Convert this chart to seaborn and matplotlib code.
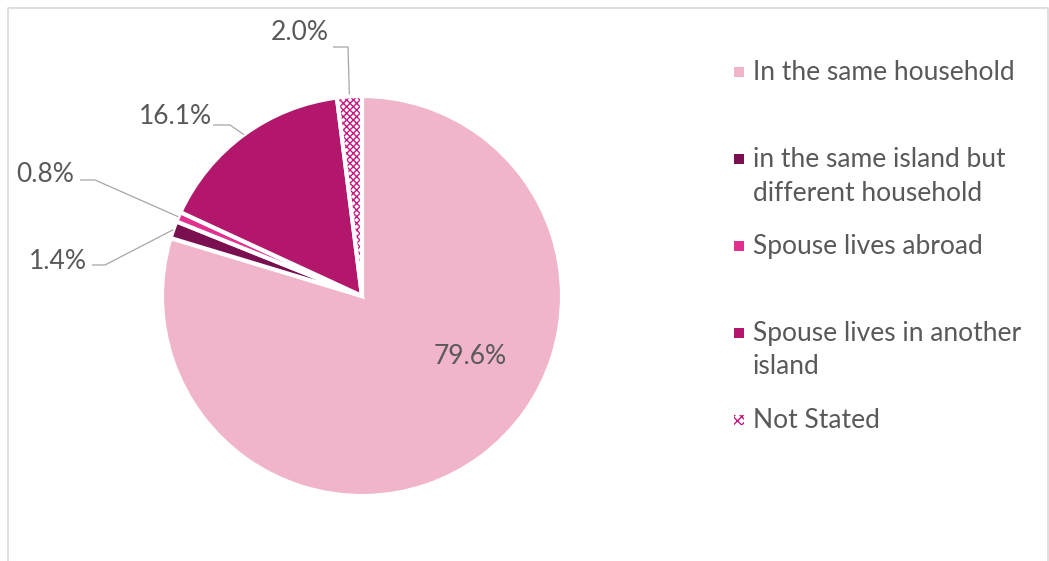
import matplotlib.pyplot as plt
import matplotlib.patches as mpatches
import numpy as np
import seaborn as sns

# data
categories = ["In the same household",
              "in the same island but\ndifferent household",
              "Spouse lives abroad",
              "Spouse lives in another\nisland",
              "Not Stated"]
shares = [79.6, 1.4, 0.8, 16.1, 2.0]
colors = ["#F0B4CB", "#7A1050", "#E2308F", "#B3176B", "#FFFFFF"]
hatch_color = "#C8177E"
text_color = "#595959"

sns.set_theme(style="white")
plt.rcParams["font.family"] = ["Lato", "DejaVu Sans"]
plt.rcParams["hatch.linewidth"] = 1.0

W, H = 1049, 561
fig = plt.figure(figsize=(W / 100, H / 100), dpi=100)
ax = fig.add_axes([0, 0, 1, 1])
ax.set_xlim(0, W)
ax.set_ylim(0, H)
ax.set_axis_off()


def py(y):
    # pixel row (from top) -> data y
    return H - y


cx, cy, R = 362, py(296), 200
wedges, _ = ax.pie(shares, colors=sns.color_palette(colors), startangle=90,
                   counterclock=False, center=(cx, cy), radius=R,
                   wedgeprops=dict(edgecolor="white", linewidth=3),
                   frame=True)
ax.set_xlim(0, W)
ax.set_ylim(0, H)
ax.set_aspect("equal")

# patterned "Not Stated" slice
ns = wedges[-1]
ns.set_facecolor("none")
ns.set_zorder(3)
hatched = mpatches.Wedge(ns.center, ns.r, ns.theta1, ns.theta2, fill=False,
                         hatch="xxxxx", edgecolor=hatch_color, linewidth=0,
                         zorder=2)
ax.add_patch(hatched)


def outer_point(w):
    a = np.deg2rad((w.theta1 + w.theta2) / 2)
    return w.center[0] + w.r * np.cos(a), w.center[1] + w.r * np.sin(a)


fs = 19
# inside label of the big slice
ax.text(470, py(357), f"{shares[0]:.1f}%", ha="center", va="center",
        fontsize=fs, color=text_color)

# outside labels: (index, text centre, elbow start, elbow end)
outside = [
    (1, (58, 261), (92, 265), (105, 265)),
    (2, (45, 174), (80, 180), (95, 180)),
    (3, (175, 116), (213, 125), (230, 125)),
    (4, (300, 32), (333, 47), (348, 47)),
]
for i, (tx, ty), (x0, y0), (x1, y1) in outside:
    ax.text(tx, py(ty), f"{shares[i]:.1f}%", ha="center", va="center",
            fontsize=fs, color=text_color)
    px, pyy = outer_point(wedges[i])
    ax.plot([x0, x1, px], [py(y0), py(y1), pyy], color="#A6A6A6", lw=0.9,
            zorder=1, solid_capstyle="butt")

# legend drawn by hand to keep Excel's even spacing
for k, (lab, col) in enumerate(zip(categories, colors)):
    yc = 72 + 87 * k
    if k == len(categories) - 1:
        sq = mpatches.Rectangle((734, py(yc + 5)), 10, 10, facecolor="white",
                                edgecolor=hatch_color, hatch="xxxx", linewidth=0)
    else:
        sq = mpatches.Rectangle((734, py(yc + 5)), 10, 10, facecolor=col,
                                linewidth=0)
    ax.add_patch(sq)
    for j, line in enumerate(lab.split("\n")):
        ax.text(753, py(yc + 34 * j), line, ha="left", va="center",
                fontsize=fs, color=text_color)

# chart border
ax.plot([7.5, 7.5, 1047.5, 1047.5], [-5, py(7.5), py(7.5), -5],
        color="#D9D9D9", lw=1.2, clip_on=False)

fig.savefig("out.png", dpi=100)
